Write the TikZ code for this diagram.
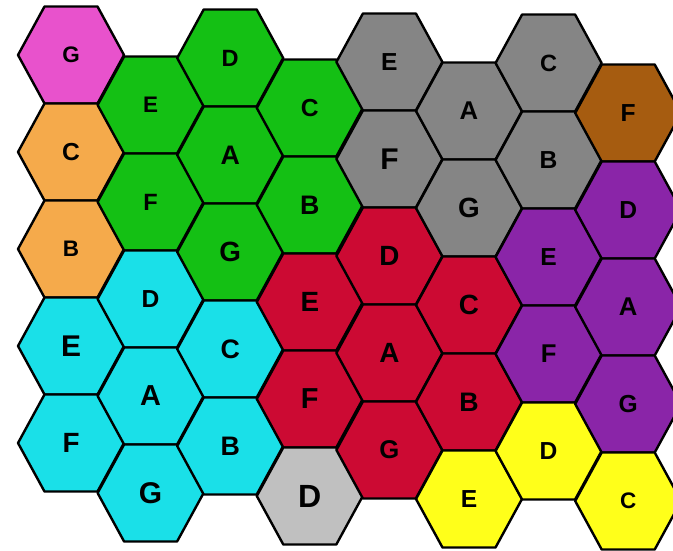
\documentclass[tikz,border=0pt]{standalone}
\usepackage{fontspec}
\setmainfont{Liberation Sans}
\definecolor{cMag}{RGB}{232,82,204}
\definecolor{cOra}{RGB}{245,170,75}
\definecolor{cGre}{RGB}{20,192,20}
\definecolor{cGra}{RGB}{133,133,133}
\definecolor{cBro}{RGB}{166,92,16}
\definecolor{cPur}{RGB}{138,37,168}
\definecolor{cCya}{RGB}{26,224,232}
\definecolor{cRed}{RGB}{204,10,51}
\definecolor{cLgr}{RGB}{192,192,192}
\definecolor{cYel}{RGB}{255,255,26}
\tikzset{
  hexcell/.style={draw=black, line width=2.4pt, line join=round},
  lbl/.style={text=black, inner sep=0pt}
}
\newcommand\hx[6]{%
  \pgfmathsetmacro\cx{71+79.6*#1}%
  \pgfmathsetmacro\cy{{55,105,58,108,62,111,63,113}[#1]+97*#2}%
  \pgfmathsetmacro\fs{#5*1.07}%
  \draw[hexcell, fill=#4] (\cx-53,\cy) -- (\cx-26.5,\cy-48.5) -- (\cx+26.5,\cy-48.5)
     -- (\cx+53,\cy) -- (\cx+26.5,\cy+48.5) -- (\cx-26.5,\cy+48.5) -- cycle;
  \node[lbl, font=\bfseries\fontsize{\fs}{\fs}\selectfont] (#6) at (\cx,\cy) {#3};
}
\begin{document}
\begin{tikzpicture}[x=1pt,y=-1pt]
\useasboundingbox (0,0) rectangle (673,550);
\clip (0,0) rectangle (673,550);
\fill[white] (0,0) rectangle (673,550);
% column 0
\hx{0}{0}{G}{cMag}{21}{a0}
\hx{0}{1}{C}{cOra}{23}{a1}
\hx{0}{2}{B}{cOra}{21}{a2}
\hx{0}{3}{E}{cCya}{28}{a3}
\hx{0}{4}{F}{cCya}{26}{a4}
% column 1
\hx{1}{0}{E}{cGre}{21}{b0}
\hx{1}{1}{F}{cGre}{22}{b1}
\hx{1}{2}{D}{cCya}{23}{b2}
\hx{1}{3}{A}{cCya}{27}{b3}
\hx{1}{4}{G}{cCya}{28}{b4}
% column 2
\hx{2}{0}{D}{cGre}{22}{c0}
\hx{2}{1}{A}{cGre}{25}{c1}
\hx{2}{2}{G}{cGre}{26}{c2}
\hx{2}{3}{C}{cCya}{25}{c3}
\hx{2}{4}{B}{cCya}{25}{c4}
% column 3
\hx{3}{0}{C}{cGre}{23}{d0}
\hx{3}{1}{B}{cGre}{25}{d1}
\hx{3}{2}{E}{cRed}{26}{d2}
\hx{3}{3}{F}{cRed}{27}{d3}
\hx{3}{4}{D}{cLgr}{30}{d4}
% column 4
\hx{4}{0}{E}{cGra}{23}{e0}
\hx{4}{1}{F}{cGra}{28}{e1}
\hx{4}{2}{D}{cRed}{26}{e2}
\hx{4}{3}{A}{cRed}{26}{e3}
\hx{4}{4}{G}{cRed}{24}{e4}
% column 5
\hx{5}{0}{A}{cGra}{24}{f0}
\hx{5}{1}{G}{cGra}{26}{f1}
\hx{5}{2}{C}{cRed}{26}{f2}
\hx{5}{3}{B}{cRed}{25}{f3}
\hx{5}{4}{E}{cYel}{23}{f4}
% column 6
\hx{6}{0}{C}{cGra}{22}{g0}
\hx{6}{1}{B}{cGra}{23}{g1}
\hx{6}{2}{E}{cPur}{23}{g2}
\hx{6}{3}{F}{cPur}{24}{g3}
\hx{6}{4}{D}{cYel}{23}{g4}
% column 7
\hx{7}{0}{F}{cBro}{23}{h0}
\hx{7}{1}{D}{cPur}{23}{h1}
\hx{7}{2}{A}{cPur}{24}{h2}
\hx{7}{3}{G}{cPur}{23}{h3}
\hx{7}{4}{C}{cYel}{21}{h4}
\end{tikzpicture}
\end{document}
